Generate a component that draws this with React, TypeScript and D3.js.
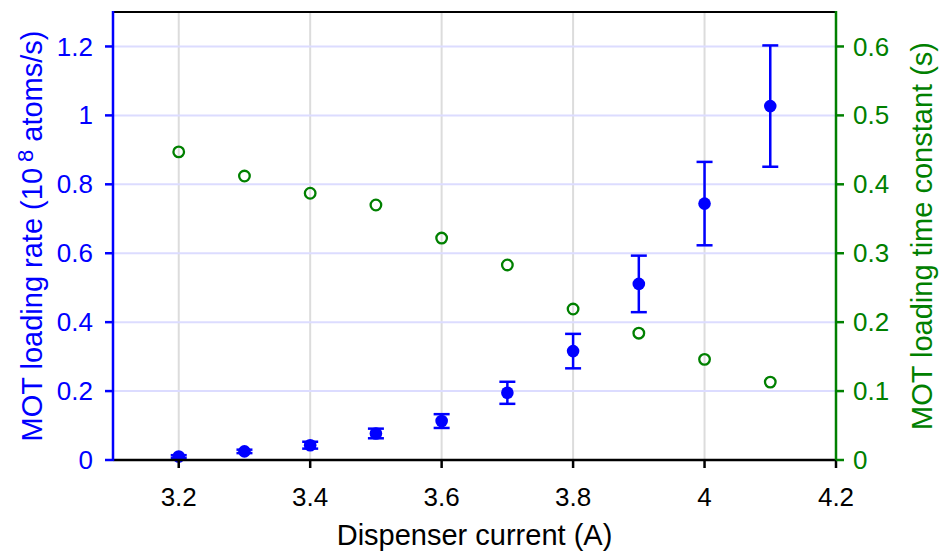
import React from "react";
import * as d3 from "d3";

const current = [3.2, 3.3, 3.4, 3.5, 3.6, 3.7, 3.8, 3.9, 4.0, 4.1];
const loadingRate = [0.010, 0.025, 0.043, 0.077, 0.113, 0.195, 0.316, 0.511, 0.744, 1.027];
const loadingRateErr = [0.004, 0.005, 0.010, 0.014, 0.020, 0.032, 0.050, 0.082, 0.121, 0.176];
const timeConstant = [0.447, 0.412, 0.387, 0.370, 0.322, 0.283, 0.219, 0.184, 0.146, 0.113];
const xTicks = [3.2, 3.4, 3.6, 3.8, 4.0, 4.2];
const xGrid = [3.2, 3.4, 3.6, 3.8, 4.0];
const leftTicks = [0, 0.2, 0.4, 0.6, 0.8, 1.0, 1.2];
const rightTicks = [0, 0.1, 0.2, 0.3, 0.4, 0.5, 0.6];

const W = 941;
const H = 556;
const L = 113;
const R = 836;
const T = 12;
const B = 460;
const FONT = "'Liberation Sans', Arial, Helvetica, sans-serif";
const BLUE = "#0000ff";
const GREEN = "#008000";

export default function App() {
  const x = d3.scaleLinear().domain([3.1, 4.2]).range([L, R]);
  const yL = d3.scaleLinear().domain([0, 1.3]).range([B, T]);
  const yR = d3.scaleLinear().domain([0, 0.65]).range([B, T]);
  const fmt = (v: number) => d3.format("~g")(+v.toFixed(2));

  return (
    <svg
      width={W}
      height={H}
      style={{ position: "absolute", left: 0, top: 0, background: "#fff" }}
      fontFamily={FONT}
    >
      <rect x={0} y={0} width={W} height={H} fill="#fff" />
      {/* grid */}
      {xGrid.map((v) => (
        <line key={"gx" + v} x1={x(v)} x2={x(v)} y1={T} y2={B} stroke="#dcdcdc" strokeWidth={2} />
      ))}
      {leftTicks.filter((v) => v > 0).map((v) => (
        <line key={"gy" + v} x1={L} x2={R} y1={yL(v)} y2={yL(v)} stroke="#dcdcff" strokeWidth={2} />
      ))}

      {/* error bars */}
      {current.map((c, i) => {
        const cx = x(c);
        const lo = yL(loadingRate[i] - loadingRateErr[i]);
        const hi = yL(loadingRate[i] + loadingRateErr[i]);
        return (
          <g key={"e" + i} stroke={BLUE} strokeWidth={2.5}>
            <line x1={cx} x2={cx} y1={lo} y2={hi} />
            <line x1={cx - 8} x2={cx + 8} y1={lo} y2={lo} />
            <line x1={cx - 8} x2={cx + 8} y1={hi} y2={hi} />
          </g>
        );
      })}
      {current.map((c, i) => (
        <circle key={"b" + i} cx={x(c)} cy={yL(loadingRate[i])} r={6.3} fill={BLUE} />
      ))}
      {current.map((c, i) => (
        <circle
          key={"g" + i}
          cx={x(c)}
          cy={yR(timeConstant[i])}
          r={5.3}
          fill="none"
          stroke={GREEN}
          strokeWidth={2.3}
        />
      ))}

      {/* frame */}
      <line x1={L} x2={R} y1={T} y2={T} stroke="#000" strokeWidth={2} />
      <line x1={L} x2={R} y1={B} y2={B} stroke="#000" strokeWidth={2.5} />
      <line x1={L} x2={L} y1={T - 1} y2={B + 1} stroke={BLUE} strokeWidth={2.5} />
      <line x1={R} x2={R} y1={T - 1} y2={B + 1} stroke={GREEN} strokeWidth={2.5} />

      {/* x axis */}
      {xTicks.map((v) => (
        <g key={"xt" + v}>
          <line x1={x(v)} x2={x(v)} y1={B} y2={B + 8} stroke="#000" strokeWidth={2.5} />
          <text x={x(v)} y={506} textAnchor="middle" fontSize={26} fill="#000">
            {fmt(v)}
          </text>
        </g>
      ))}
      <text x={(L + R) / 2} y={545} textAnchor="middle" fontSize={29} fill="#000">
        Dispenser current (A)
      </text>

      {/* left axis */}
      {leftTicks.map((v) => (
        <g key={"lt" + v}>
          <line x1={L - 8} x2={L} y1={yL(v)} y2={yL(v)} stroke={BLUE} strokeWidth={2.5} />
          <text x={93} y={yL(v)} dy="0.35em" textAnchor="end" fontSize={26} fill={BLUE}>
            {fmt(v)}
          </text>
        </g>
      ))}
      <text
        transform={`translate(42, ${(T + B) / 2}) rotate(-90)`}
        textAnchor="middle"
        fontSize={29}
        fill={BLUE}
      >
        MOT loading rate (10
        <tspan dx={6} dy={-9} fontSize={22}>8</tspan>
        <tspan dx={8} dy={9}>atoms/s)</tspan>
      </text>

      {/* right axis */}
      {rightTicks.map((v) => (
        <g key={"rt" + v}>
          <line x1={R} x2={R + 8} y1={yR(v)} y2={yR(v)} stroke={GREEN} strokeWidth={2.5} />
          <text x={853} y={yR(v)} dy="0.35em" textAnchor="start" fontSize={26} fill={GREEN}>
            {fmt(v)}
          </text>
        </g>
      ))}
      <text
        transform={`translate(932, ${(T + B) / 2}) rotate(-90)`}
        textAnchor="middle"
        fontSize={29}
        fill={GREEN}
      >
        MOT loading time constant (s)
      </text>
    </svg>
  );
}
